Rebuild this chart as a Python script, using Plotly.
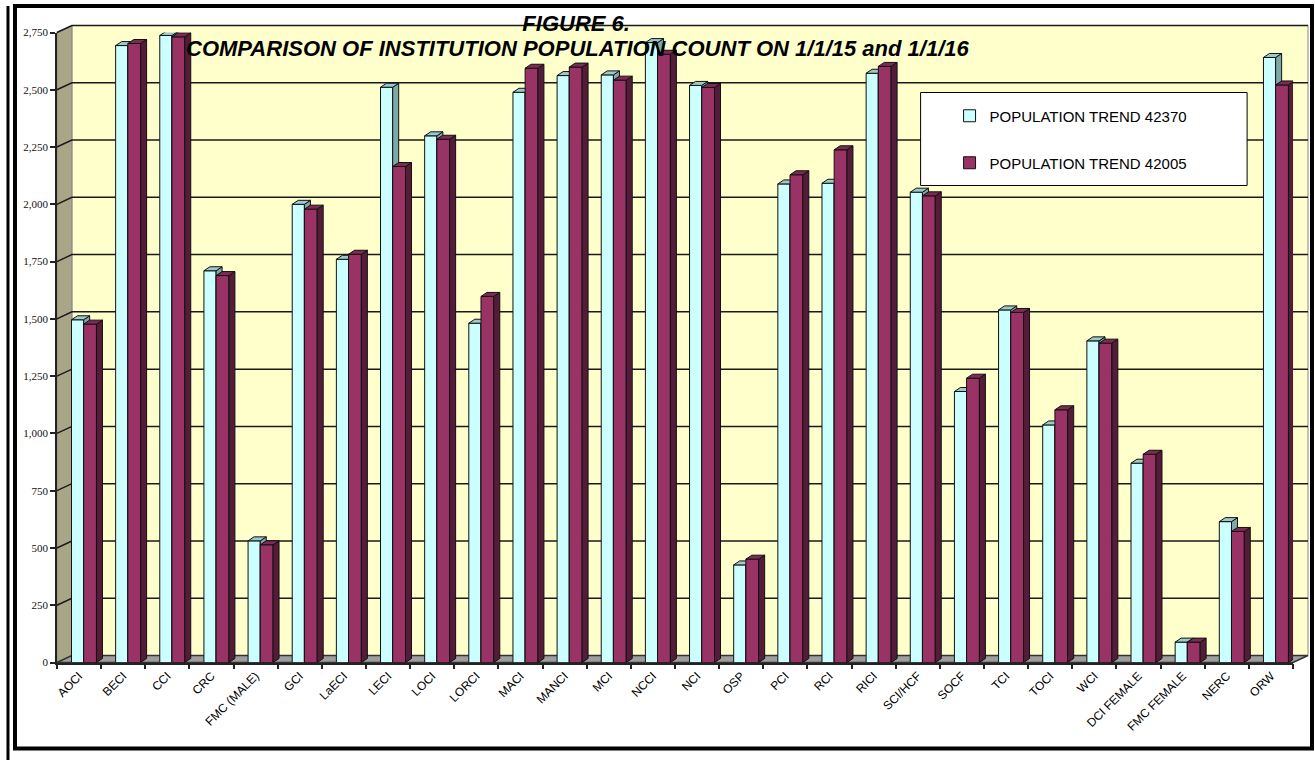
import plotly.graph_objects as go

# ---------------- data ----------------
categories = ["AOCI", "BECI", "CCI", "CRC", "FMC (MALE)", "GCI", "LaECI", "LECI", "LOCI",
              "LORCI", "MACI", "MANCI", "MCI", "NCCI", "NCI", "OSP", "PCI", "RCI", "RICI",
              "SCI/HCF", "SOCF", "TCI", "TOCI", "WCI", "DCI FEMALE", "FMC FEMALE", "NERC", "ORW"]
trend_42370 = [1496, 2693, 2737, 1710, 531, 2000, 1760, 2511, 2299, 1481, 2489, 2562, 2565, 2706,
               2519, 426, 2089, 2092, 2572, 2053, 1183, 1539, 1037, 1404, 870, 89, 615, 2641]
trend_42005 = [1477, 2702, 2731, 1689, 514, 1979, 1782, 2165, 2284, 1598, 2594, 2599, 2542, 2655,
               2510, 451, 2129, 2238, 2602, 2037, 1241, 1528, 1103, 1394, 909, 89, 572, 2521]
series_names = ["POPULATION TREND 42370", "POPULATION TREND 42005"]
y_ticks = [0, 250, 500, 750, 1000, 1250, 1500, 1750, 2000, 2250, 2500, 2750]
y_labels = ["0", "250", "500", "750", "1,000", "1,250", "1,500", "1,750", "2,000", "2,250", "2,500", "2,750"]
title_lines = ["FIGURE 6.", "COMPARISON OF INSTITUTION POPULATION COUNT ON 1/1/15 and 1/1/16"]

# ---------------- geometry (target pixels on the photographed page) ----------------
W, H = 1315, 766
V_OFF, V_SC = 5.5, 754 / 766          # observed vertical placement of the page in the photo
Y_MAX = 2750
FRONT_L, FRONT_R, FRONT_B, FRONT_T = 55, 1293, 662, 32
BACK_L, BACK_R, BACK_B, BACK_T = 70, 1308, 655, 25
N = len(categories)


def px(x):
    return x / W


def py(y):
    v = 1 - ((y - V_OFF) / V_SC) / H
    return min(1.0, max(0.0, v))


UX = N / (FRONT_R - FRONT_L)          # category units per pixel
UY = Y_MAX / (FRONT_B - FRONT_T)      # value units per pixel
DX, DY = 6 * UX, 4 * UY               # 3-D depth of the bar boxes

LIGHT = dict(front="#CCFFFF", top="#9CCACA", side="#7FA9A9", off=-0.17, w=0.276)
DARK = dict(front="#993366", top="#7E2A55", side="#551C39", off=0.106, w=0.29)


def faces(vals, off, w):
    tx, ty, sx, sy = [], [], [], []
    for i, v in enumerate(vals):
        xl = i + off
        xr = xl + w
        tx += [xl, xr, xr + DX, xl + DX, xl, None]
        ty += [v, v, v + DY, v + DY, v, None]
        sx += [xr, xr + DX, xr + DX, xr, xr, None]
        sy += [0, DY, v + DY, v, 0, None]
    return tx, ty, sx, sy


fig = go.Figure()
xs = list(range(N))

for vals, st, name, yax, grp in [(trend_42370, LIGHT, series_names[0], "y2", "a"),
                                 (trend_42005, DARK, series_names[1], "y3", "b")]:
    fig.add_trace(go.Bar(x=xs, y=vals, offset=st["off"], width=st["w"], name=name,
                         marker=dict(color=st["front"], line=dict(color="#111111", width=1)),
                         xaxis="x2", yaxis=yax, legendgroup=grp,
                         customdata=categories, hovertemplate="%{customdata}: %{y}<extra>" + name + "</extra>"))
    tx, ty, sx, sy = faces(vals, st["off"], st["w"])
    fig.add_trace(go.Scatter(x=sx, y=sy, mode="lines", fill="toself", fillcolor=st["side"],
                             line=dict(color="#111111", width=1), showlegend=False,
                             hoverinfo="skip", xaxis="x2", yaxis=yax))
    fig.add_trace(go.Scatter(x=tx, y=ty, mode="lines", fill="toself", fillcolor=st["top"],
                             line=dict(color="#111111", width=1), showlegend=False,
                             hoverinfo="skip", xaxis="x2", yaxis=yax))

shapes = []
# back wall
shapes.append(dict(type="rect", xref="paper", yref="paper", layer="below",
                   x0=px(BACK_L), x1=px(BACK_R), y0=py(BACK_B), y1=py(BACK_T),
                   fillcolor="#FFFFCC", line=dict(color="#888888", width=1)))
# left wall
shapes.append(dict(type="path", xref="paper", yref="paper", layer="below",
                   path=f"M{px(FRONT_L)},{py(FRONT_B)} L{px(FRONT_L)},{py(FRONT_T)} "
                        f"L{px(BACK_L)},{py(BACK_T)} L{px(BACK_L)},{py(BACK_B)} Z",
                   fillcolor="#A9A688", line=dict(color="#888888", width=1)))
# gridlines: along the side wall and across the back wall
for v in y_ticks[1:]:
    yf = FRONT_B - v / UY
    yb = BACK_B - v / UY
    shapes.append(dict(type="path", xref="paper", yref="paper", layer="below",
                       path=f"M{px(FRONT_L)},{py(yf)} L{px(BACK_L)},{py(yb)} L{px(BACK_R)},{py(yb)}",
                       line=dict(color="#1a1a1a", width=1.5)))
# floor
shapes.append(dict(type="path", xref="paper", yref="paper", layer="below",
                   path=f"M{px(FRONT_L)},{py(FRONT_B)} L{px(BACK_L)},{py(BACK_B)} "
                        f"L{px(BACK_R)},{py(BACK_B)} L{px(FRONT_R)},{py(FRONT_B)} Z",
                   fillcolor="#9E9E9E", line=dict(color="#333333", width=1.5)))
# legend box
shapes.append(dict(type="rect", xref="paper", yref="paper", layer="above",
                   x0=px(920), x1=px(1247), y0=py(185), y1=py(92),
                   fillcolor="white", line=dict(color="black", width=1)))
# outer frames
shapes.append(dict(type="rect", xref="paper", yref="paper", layer="above",
                   x0=px(13), x1=px(1312), y0=py(748), y1=py(5),
                   line=dict(color="black", width=4)))
shapes.append(dict(type="line", xref="paper", yref="paper", layer="above",
                   x0=px(6), x1=px(6), y0=0, y1=py(4),
                   line=dict(color="black", width=3)))

TITLE_FONT = dict(family="Liberation Sans, Arial, sans-serif", size=22, color="black")

fig.update_layout(
    width=W, height=H, autosize=False,
    margin=dict(l=0, r=0, t=0, b=0),
    paper_bgcolor="white", plot_bgcolor="rgba(0,0,0,0)",
    barmode="overlay",
    shapes=shapes,
    showlegend=True,
    legend=dict(x=px(949), y=py(99), xanchor="left", yanchor="top",
                bgcolor="rgba(0,0,0,0)", borderwidth=0, tracegroupgap=24.5,
                font=dict(family="Liberation Sans, Arial, sans-serif", size=15, color="black")),
    title=dict(text="<b><i>" + title_lines[0] + "</i></b>",
               x=px(575), xanchor="center", xref="paper", y=py(23), yanchor="middle", yref="paper",
               font=TITLE_FONT),
    annotations=[dict(text="<b><i>" + title_lines[1] + "</i></b>", showarrow=False,
                      x=px(576), xanchor="center", xref="paper", y=py(48), yanchor="middle",
                      yref="paper", font=TITLE_FONT)],
    xaxis=dict(domain=[px(BACK_L), px(BACK_R)], range=[0, 1], visible=False),
    yaxis=dict(domain=[py(BACK_B), py(BACK_T)], range=[0, Y_MAX], visible=False),
    # front plane with bars
    xaxis2=dict(domain=[px(FRONT_L), px(FRONT_R)], range=[-0.5, N - 0.5], anchor="y2",
                tickmode="array", tickvals=xs, ticktext=categories, tickangle=-45,
                ticks="", ticklabelstandoff=0,
                minor=dict(tickmode="array", tickvals=[i - 0.5 for i in range(N + 1)],
                           ticks="outside", ticklen=5, tickcolor="#222222", tickwidth=1.5),
                showgrid=False, zeroline=False, showline=True, linecolor="#222222", linewidth=1.5,
                tickfont=dict(family="Liberation Sans, Arial, sans-serif", size=12, color="black")),
    yaxis2=dict(domain=[py(FRONT_B), py(FRONT_T)], range=[0, Y_MAX], anchor="x2",
                tickmode="array", tickvals=y_ticks, ticktext=y_labels,
                ticks="outside", ticklen=5, tickcolor="#222222", tickwidth=1.5,
                showgrid=False, zeroline=False, showline=True, linecolor="#222222", linewidth=1.5,
                tickfont=dict(family="Liberation Serif, Times New Roman, serif", size=11, color="#111111")),
    yaxis3=dict(overlaying="y2", range=[0, Y_MAX], anchor="x2", visible=False),
)

fig.write_html("out.html", config={"displayModeBar": False},
               post_script="document.body.style.margin='0';")
